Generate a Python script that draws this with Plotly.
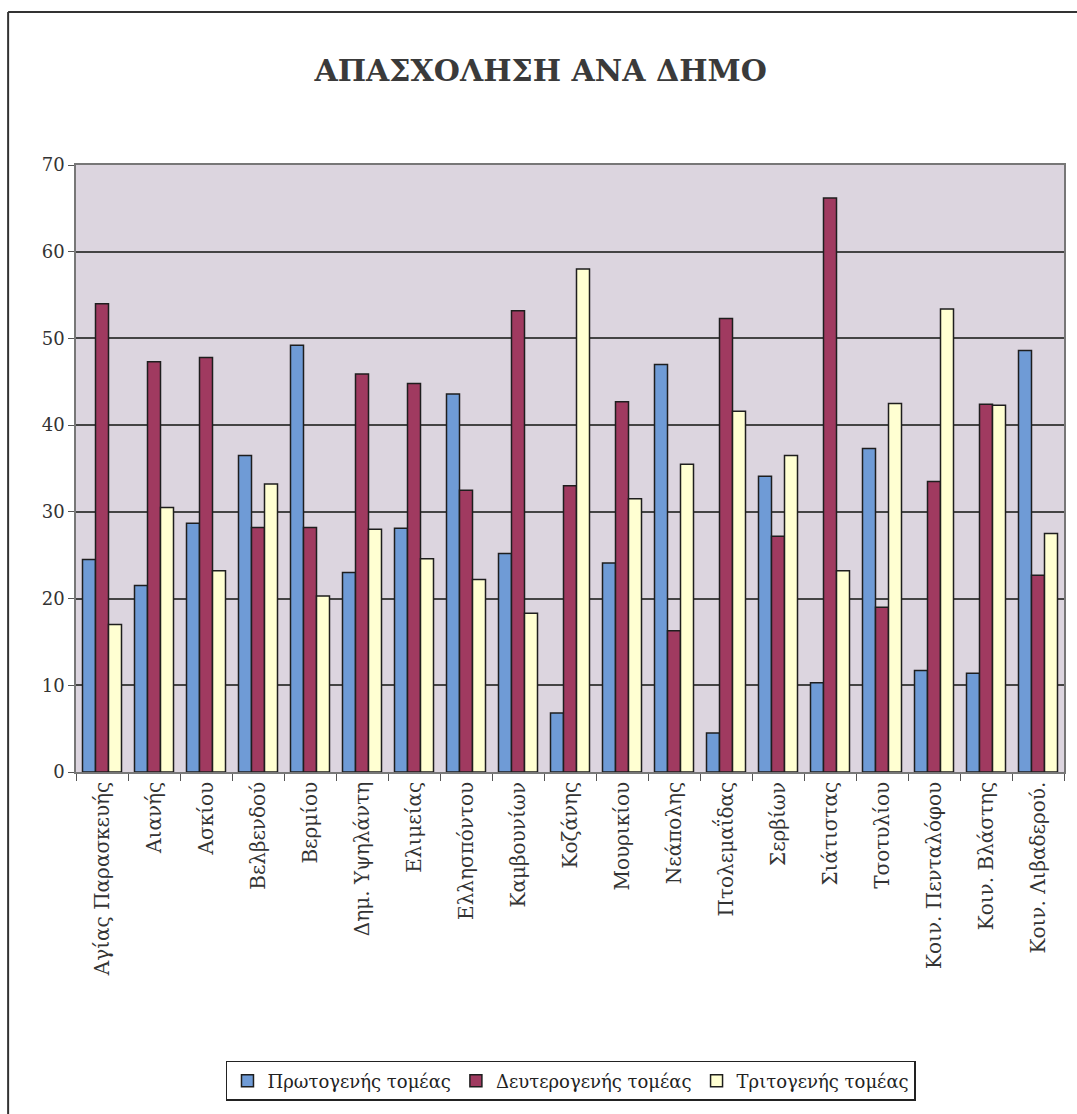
import plotly.graph_objects as go

# Municipalities (x-axis categories)
municipalities = [
    "Αγίας Παρασκευής", "Αιανής", "Ασκίου", "Βελβενδού", "Βερμίου",
    "Δημ. Υψηλάντη", "Ελιμείας", "Ελλησπόντου", "Καμβουνίων", "Κοζάνης",
    "Μουρικίου", "Νεάπολης", "Πτολεμαΐδας", "Σερβίων", "Σιάτιστας",
    "Τσοτυλίου", "Κοιν. Πενταλόφου", "Κοιν. Βλάστης", "Κοιν. Λιβαδερού.",
]

# Employment share (%) per sector
primary = [24.5, 21.5, 28.7, 36.5, 49.2, 23.0, 28.1, 43.6, 25.2, 6.8,
           24.1, 47.0, 4.5, 34.1, 10.3, 37.3, 11.7, 11.4, 48.6]
secondary = [54.0, 47.3, 47.8, 28.2, 28.2, 45.9, 44.8, 32.5, 53.2, 33.0,
             42.7, 16.3, 52.3, 27.2, 66.2, 19.0, 33.5, 42.4, 22.7]
tertiary = [17.0, 30.5, 23.2, 33.2, 20.3, 28.0, 24.6, 22.2, 18.3, 58.0,
            31.5, 35.5, 41.6, 36.5, 23.2, 42.5, 53.4, 42.3, 27.5]

series_names = ["Πρωτογενής τομέας", "Δευτερογενής τομέας", "Τριτογενής τομέας"]
series_colors = ["#6F9BD6", "#A03A60", "#FFFFD2"]

serif = "DejaVu Serif"

fig = go.Figure()
for name, vals, col in zip(series_names, [primary, secondary, tertiary], series_colors):
    fig.add_trace(go.Bar(
        x=municipalities, y=vals, name=name,
        marker=dict(color=col, line=dict(color="#1E1E1E", width=1.5)),
    ))

fig.update_layout(
    width=1077, height=1114,
    margin=dict(l=76, r=11, t=165, b=342),
    paper_bgcolor="white",
    plot_bgcolor="#DCD5DF",
    barmode="group", bargap=0.25, bargroupgap=0.0,
    title=dict(
        text="<b>ΑΠΑΣΧΟΛΗΣΗ ΑΝΑ ΔΗΜΟ</b>",
        x=0.502, xanchor="center", y=0.937, yanchor="middle",
        font=dict(family=serif, size=30, color="#3A3A3A"),
    ),
    font=dict(family=serif, color="#333333"),
    showlegend=True,
    legend=dict(
        orientation="h",
        x=0.501, xanchor="center", y=-0.509, yanchor="middle",
        bgcolor="white", bordercolor="#222222", borderwidth=1.5,
        font=dict(family=serif, size=18, color="#222222"),
        itemwidth=30, traceorder="normal",
    ),
    xaxis=dict(
        type="category", tickangle=-90,
        tickfont=dict(family=serif, size=20, color="#333333"),
        ticks="outside", tickson="boundaries", ticklen=7, tickcolor="#555555",
        showline=True, linecolor="#777777", linewidth=1.5, mirror=True,
        showgrid=False,
    ),
    yaxis=dict(
        range=[0, 70], dtick=10,
        tickfont=dict(family=serif, size=18, color="#333333"),
        ticks="outside", ticklen=6, tickcolor="#555555",
        showline=True, linecolor="#777777", linewidth=1.5, mirror=True,
        showgrid=True, gridcolor="#444444", gridwidth=2,
        zeroline=False,
    ),
    shapes=[
        # outer chart frame (left and top edges)
        dict(type="line", xref="paper", yref="paper",
             x0=-0.0687, x1=-0.0687, y0=1.252, y1=-0.58,
             line=dict(color="#333333", width=2)),
        dict(type="line", xref="paper", yref="paper",
             x0=-0.0687, x1=1.02, y0=1.252, y1=1.252,
             line=dict(color="#333333", width=2)),
    ],
)

fig.write_html("out.html")
